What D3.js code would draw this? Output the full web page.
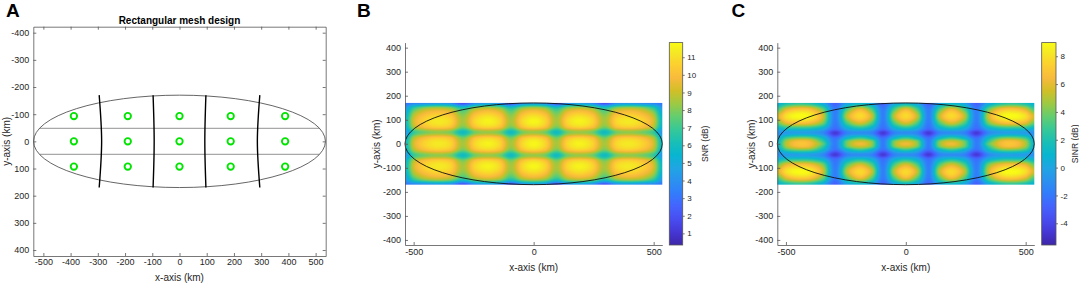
<!DOCTYPE html>
<html>
<head>
<meta charset="utf-8">
<title>Rectangular mesh design, SNR and SINR maps</title>
<script src="https://cdn.jsdelivr.net/npm/d3@7/dist/d3.min.js"></script>
<style>
  body { margin: 0; background: #fff; }
  svg text { font-family: "Liberation Sans", Arial, Helvetica, sans-serif; }
</style>
</head>
<body>
<svg id="chart" width="1079" height="284"></svg>
<script>
// ---- data (km, dB) ----
const meshXTicks = [-500, -400, -300, -200, -100, 0, 100, 200, 300, 400, 500];
const meshYTicks = [-400, -300, -200, -100, 0, 100, 200, 300, 400];
const mapXTicks = [-500, 0, 500];
const mapYTicks = [-400, -300, -200, -100, 0, 100, 200, 300, 400];

// coverage ellipse (semi axes)
const coverageRx = 536;
const coverageRy = 170;

// beam centres of the 5 x 3 mesh
const beamX = [-388, -190, 0, 188, 388];
const beamY = [-93, 0, 93];

// cell borders: x at the top/bottom of the mesh and at y = 0
const borderXEnd = [-295, -97, 97, 295];
const borderXMid = [-286, -93, 93, 286];
const borderY = [-170, 0, 170];
// horizontal strip borders
const stripY = [-48, 48];
const stripX = [-514, 514];

// sample grid for the two maps
const gridX = [-536, -500, -455, -400, -345, -295, -245, -190, -140, -95, -48, 0,
               48, 95, 140, 190, 245, 295, 345, 400, 455, 500, 536];

const snrY = [-170, -150, -125, -95, -70, -48, -24, 0, 24, 48, 70, 95, 125, 150, 170];
const snrGrid = [
  [3.0,3.4,3.6,4.1,3.6,1.6,3.6,4.2,3.6,1.6,3.6,4.2,3.6,1.6,3.6,4.2,3.6,1.6,3.6,4.1,3.6,3.4,3.0],
  [4.2,6.6,8.0,8.5,8.0,6.2,8.0,8.6,8.0,6.2,8.0,8.6,8.0,6.2,8.0,8.6,8.0,6.2,8.0,8.5,8.0,6.6,4.2],
  [5.1,8.4,9.8,10.4,9.9,7.9,9.9,10.6,9.9,7.9,9.9,10.6,9.9,7.9,9.9,10.6,9.9,7.9,9.9,10.4,9.8,8.4,5.1],
  [5.6,9.2,10.7,11.3,10.8,8.5,10.8,11.6,10.8,8.5,10.8,11.7,10.8,8.5,10.8,11.6,10.8,8.5,10.8,11.3,10.7,9.2,5.6],
  [5.2,8.6,10.0,10.6,10.1,7.9,10.1,10.8,10.1,7.9,10.1,10.9,10.1,7.9,10.1,10.8,10.1,7.9,10.1,10.6,10.0,8.6,5.2],
  [4.1,6.8,7.8,8.2,7.8,5.8,7.8,8.3,7.8,5.8,7.8,8.3,7.8,5.8,7.8,8.3,7.8,5.8,7.8,8.2,7.8,6.8,4.1],
  [5.2,8.6,10.0,10.6,10.1,7.9,10.1,10.8,10.1,7.9,10.1,10.9,10.1,7.9,10.1,10.8,10.1,7.9,10.1,10.6,10.0,8.6,5.2],
  [5.6,9.2,10.7,11.3,10.8,8.5,10.8,11.6,10.8,8.5,10.8,11.7,10.8,8.5,10.8,11.6,10.8,8.5,10.8,11.3,10.7,9.2,5.6],
  [5.2,8.6,10.0,10.6,10.1,7.9,10.1,10.8,10.1,7.9,10.1,10.9,10.1,7.9,10.1,10.8,10.1,7.9,10.1,10.6,10.0,8.6,5.2],
  [4.1,6.8,7.8,8.2,7.8,5.8,7.8,8.3,7.8,5.8,7.8,8.3,7.8,5.8,7.8,8.3,7.8,5.8,7.8,8.2,7.8,6.8,4.1],
  [5.2,8.6,10.0,10.6,10.1,7.9,10.1,10.8,10.1,7.9,10.1,10.9,10.1,7.9,10.1,10.8,10.1,7.9,10.1,10.6,10.0,8.6,5.2],
  [5.6,9.2,10.7,11.3,10.8,8.5,10.8,11.6,10.8,8.5,10.8,11.7,10.8,8.5,10.8,11.6,10.8,8.5,10.8,11.3,10.7,9.2,5.6],
  [5.1,8.4,9.8,10.4,9.9,7.9,9.9,10.6,9.9,7.9,9.9,10.6,9.9,7.9,9.9,10.6,9.9,7.9,9.9,10.4,9.8,8.4,5.1],
  [4.2,6.6,8.0,8.5,8.0,6.2,8.0,8.6,8.0,6.2,8.0,8.6,8.0,6.2,8.0,8.6,8.0,6.2,8.0,8.5,8.0,6.6,4.2],
  [3.0,3.4,3.6,4.1,3.6,1.6,3.6,4.2,3.6,1.6,3.6,4.2,3.6,1.6,3.6,4.2,3.6,1.6,3.6,4.1,3.6,3.4,3.0]
];

const sinrY = [-170, -145, -115, -85, -62, -45, -24, -12, 0, 12, 24, 45, 62, 85, 115, 145, 170];
const sinrGrid = [
  [0.5,1.5,2.2,1.8,0.0,-3.0,-0.3,0.6,-0.3,-3.0,-0.3,0.6,-0.3,-3.0,-0.3,0.6,-0.3,-3.0,0.0,1.8,2.2,1.5,0.5],
  [2.8,5.5,6.8,6.5,3.5,-2.0,3.0,6.0,3.0,-2.0,3.0,6.0,3.0,-2.0,3.0,6.0,3.0,-2.0,3.5,6.5,6.8,5.5,2.8],
  [5.5,8.0,9.0,8.6,5.5,-1.8,5.2,7.8,5.2,-1.8,5.2,7.8,5.2,-1.8,5.2,7.8,5.2,-1.8,5.5,8.6,9.0,8.0,5.5],
  [3.5,5.8,6.5,6.2,3.8,-2.0,3.0,5.5,3.0,-2.0,3.0,5.5,3.0,-2.0,3.0,5.5,3.0,-2.0,3.8,6.2,6.5,5.8,3.5],
  [0.5,1.6,1.8,1.7,0.3,-2.6,0.2,1.5,0.2,-2.6,0.2,1.5,0.2,-2.6,0.2,1.5,0.2,-2.6,0.3,1.7,1.8,1.6,0.5],
  [-1.0,-0.5,-0.3,-0.4,-1.3,-4.6,-1.6,-1.2,-1.6,-4.6,-1.6,-1.2,-1.6,-4.6,-1.6,-1.2,-1.6,-4.6,-1.3,-0.4,-0.3,-0.5,-1.0],
  [0.0,2.8,4.0,3.8,1.2,-2.4,1.0,2.8,1.0,-2.4,1.0,2.8,1.0,-2.4,1.0,2.8,1.0,-2.4,1.2,3.8,4.0,2.8,0.0],
  [0.5,4.5,6.3,6.0,2.5,-2.0,3.5,5.3,3.7,-2.0,3.7,5.3,3.7,-2.0,3.7,5.3,3.5,-2.0,2.5,6.0,6.3,4.5,0.5],
  [0.8,5.0,6.8,6.5,3.5,-1.9,4.0,6.3,4.3,-1.9,4.3,6.3,4.3,-1.9,4.3,6.3,4.0,-1.9,3.5,6.5,6.8,5.0,0.8],
  [0.5,4.5,6.3,6.0,2.5,-2.0,3.5,5.3,3.7,-2.0,3.7,5.3,3.7,-2.0,3.7,5.3,3.5,-2.0,2.5,6.0,6.3,4.5,0.5],
  [0.0,2.8,4.0,3.8,1.2,-2.4,1.0,2.8,1.0,-2.4,1.0,2.8,1.0,-2.4,1.0,2.8,1.0,-2.4,1.2,3.8,4.0,2.8,0.0],
  [-1.0,-0.5,-0.3,-0.4,-1.3,-4.6,-1.6,-1.2,-1.6,-4.6,-1.6,-1.2,-1.6,-4.6,-1.6,-1.2,-1.6,-4.6,-1.3,-0.4,-0.3,-0.5,-1.0],
  [0.5,1.6,1.8,1.7,0.3,-2.6,0.2,1.5,0.2,-2.6,0.2,1.5,0.2,-2.6,0.2,1.5,0.2,-2.6,0.3,1.7,1.8,1.6,0.5],
  [3.5,5.8,6.5,6.2,3.8,-2.0,3.0,5.5,3.0,-2.0,3.0,5.5,3.0,-2.0,3.0,5.5,3.0,-2.0,3.8,6.2,6.5,5.8,3.5],
  [5.5,8.0,9.0,8.6,5.5,-1.8,5.2,7.8,5.2,-1.8,5.2,7.8,5.2,-1.8,5.2,7.8,5.2,-1.8,5.5,8.6,9.0,8.0,5.5],
  [2.8,5.5,6.8,6.5,3.5,-2.0,3.0,6.0,3.0,-2.0,3.0,6.0,3.0,-2.0,3.0,6.0,3.0,-2.0,3.5,6.5,6.8,5.5,2.8],
  [0.5,1.5,2.2,1.8,0.0,-3.0,-0.3,0.6,-0.3,-3.0,-0.3,0.6,-0.3,-3.0,-0.3,0.6,-0.3,-3.0,0.0,1.8,2.2,1.5,0.5]
];

const snrDomain = [0.34, 11.83];
const sinrDomain = [-5.56, 8.98];
const snrTicks = [1, 2, 3, 4, 5, 6, 7, 8, 9, 10, 11];
const sinrTicks = [-4, -2, 0, 2, 4, 6, 8];

// parula colormap, sampled at these rows of the 64 entry table
const parulaIdx = [0, 4, 8, 12, 16, 20, 24, 28, 32, 36, 40, 44, 48, 52, 56, 60, 63];
const parulaHex = ["#3e26a8", "#4537d5", "#484df0", "#4563fd", "#327cfc", "#2b91ef",
  "#20a5e3", "#08b5d0", "#19bfb6", "#37c897", "#64cd6f", "#9dc943", "#d1bf27",
  "#f8ba3d", "#fccf30", "#f5e924", "#f9fb15"];

// ---- style ----
const axisColor = "#555";
const textColor = "#262626";

const svg = d3.select("#chart");

function colorScale(domain) {
  const stops = parulaIdx.map(i => domain[0] + (domain[1] - domain[0]) * i / 63);
  return d3.scaleLinear().domain(stops).range(parulaHex).clamp(true);
}

function styleAxis(g, size) {
  g.attr("font-family", null).attr("font-size", null);
  g.select(".domain").attr("stroke", axisColor).attr("stroke-width", 0.8);
  g.selectAll(".tick line").attr("stroke", axisColor).attr("stroke-width", 0.8);
  g.selectAll(".tick text").attr("fill", textColor).style("font-size", size + "px");
}

function panelLetter(x, txt) {
  svg.append("text").attr("x", x).attr("y", 16.5)
    .style("font-size", "19px").style("font-weight", "bold").attr("fill", "#000").text(txt);
}

function axisLabels(y, xlabY, cx, yLabX) {
  const ym = (y.range()[0] + y.range()[1]) / 2;
  svg.append("text").attr("x", cx).attr("y", xlabY)
    .attr("text-anchor", "middle").attr("fill", textColor).style("font-size", "10px")
    .text("x-axis (km)");
  svg.append("text").attr("transform", "translate(" + yLabX + "," + ym + ") rotate(-90)")
    .attr("text-anchor", "middle").attr("fill", textColor).style("font-size", "10px")
    .text("y-axis (km)");
}

// ---------------- Panel A ----------------
(function () {
  const x = d3.scaleLinear().domain([-537, 537]).range([33.3, 325.7]);
  const y = d3.scaleLinear().domain([-422, 422]).range([26.7, 256]);
  const g = svg.append("g");

  g.selectAll(".strip").data(stripY).enter().append("line")
    .attr("x1", x(stripX[0])).attr("x2", x(stripX[1]))
    .attr("y1", d => y(d)).attr("y2", d => y(d))
    .attr("stroke", "#a8a8a8").attr("stroke-width", 1.2);

  g.append("ellipse")
    .attr("cx", x(0)).attr("cy", y(0))
    .attr("rx", x(coverageRx) - x(0)).attr("ry", y(coverageRy) - y(0))
    .attr("fill", "none").attr("stroke", "#555").attr("stroke-width", 0.9);

  const border = d3.line().x(d => x(d[0])).y(d => y(d[1])).curve(d3.curveNatural);
  g.selectAll(".border").data(borderXEnd.map((xe, i) => [
      [xe, borderY[0]], [borderXMid[i], borderY[1]], [xe, borderY[2]]]))
    .enter().append("path")
    .attr("d", border).attr("fill", "none").attr("stroke", "#000").attr("stroke-width", 1.4);

  const beams = [];
  beamY.forEach(by => beamX.forEach(bx => beams.push([bx, by])));
  g.selectAll(".beam").data(beams).enter().append("circle")
    .attr("cx", d => x(d[0])).attr("cy", d => y(d[1])).attr("r", 3.2)
    .attr("fill", "none").attr("stroke", "#00e400").attr("stroke-width", 1.9);

  const fmt = d => String(d);
  const [x0, x1] = x.range(), [y0, y1] = y.range();
  svg.append("g").attr("transform", `translate(0,${y1})`)
    .call(d3.axisBottom(x).tickValues(meshXTicks).tickFormat(fmt).tickSize(-3).tickSizeOuter(0).tickPadding(3))
    .call(g => styleAxis(g, 9));
  svg.append("g").attr("transform", `translate(0,${y0})`)
    .call(d3.axisTop(x).tickValues(meshXTicks).tickFormat("").tickSize(-3).tickSizeOuter(0))
    .call(g => styleAxis(g, 9));
  svg.append("g").attr("transform", `translate(${x0},0)`)
    .call(d3.axisLeft(y).tickValues(meshYTicks).tickFormat(fmt).tickSize(-3).tickSizeOuter(0).tickPadding(4))
    .call(g => styleAxis(g, 9));
  svg.append("g").attr("transform", `translate(${x1},0)`)
    .call(d3.axisRight(y).tickValues(meshYTicks).tickFormat("").tickSize(-3).tickSizeOuter(0))
    .call(g => styleAxis(g, 9));

  svg.append("text").attr("x", (x0 + x1) / 2).attr("y", 23.5)
    .attr("text-anchor", "middle").style("font-size", "10px").style("font-weight", "bold")
    .attr("fill", "#000").text("Rectangular mesh design");

  axisLabels(y, 281, (x0 + x1) / 2, 9.5);
  panelLetter(6, "A");
})();

// ---------------- heat map helper ----------------
function cubic(p0, p1, p2, p3, t) {
  return 0.5 * (2 * p1 + (-p0 + p2) * t + (2 * p0 - 5 * p1 + 4 * p2 - p3) * t * t +
    (-p0 + 3 * p1 - 3 * p2 + p3) * t * t * t);
}

function sample(grid, fx, fy) {
  const nx = grid[0].length, ny = grid.length;
  const ix = Math.min(Math.floor(fx), nx - 2), iy = Math.min(Math.floor(fy), ny - 2);
  const tx = fx - ix, ty = fy - iy;
  const cx = k => Math.max(0, Math.min(nx - 1, k));
  const cy = k => Math.max(0, Math.min(ny - 1, k));
  const rows = [-1, 0, 1, 2].map(d => {
    const r = grid[cy(iy + d)];
    return cubic(r[cx(ix - 1)], r[cx(ix)], r[cx(ix + 1)], r[cx(ix + 2)], tx);
  });
  return cubic(rows[0], rows[1], rows[2], rows[3], ty);
}

function heatMap(g, ys, grid, x, y, color) {
  const left = x(gridX[0]), right = x(gridX[gridX.length - 1]);
  const top = Math.min(y(ys[0]), y(ys[ys.length - 1]));
  const bottom = Math.max(y(ys[0]), y(ys[ys.length - 1]));
  const W = Math.round(right - left), H = Math.round(bottom - top);
  const canvas = document.createElement("canvas");
  canvas.width = W; canvas.height = H;
  const ctx = canvas.getContext("2d");
  const img = ctx.createImageData(W, H);
  const fx = d3.scaleLinear().domain(gridX).range(d3.range(gridX.length)).clamp(true);
  const fy = d3.scaleLinear().domain(ys).range(d3.range(ys.length)).clamp(true);
  for (let j = 0; j < H; j++) {
    const ky = y.invert(top + (j + 0.5) * (bottom - top) / H);
    for (let i = 0; i < W; i++) {
      const kx = x.invert(left + (i + 0.5) * (right - left) / W);
      const c = d3.rgb(color(sample(grid, fx(kx), fy(ky))));
      const p = 4 * (j * W + i);
      img.data[p] = c.r; img.data[p + 1] = c.g; img.data[p + 2] = c.b; img.data[p + 3] = 255;
    }
  }
  ctx.putImageData(img, 0, 0);
  g.append("image").attr("x", left).attr("y", top)
    .attr("width", right - left).attr("height", bottom - top)
    .attr("preserveAspectRatio", "none").attr("href", canvas.toDataURL());
}

function colorBar(id, x0, x1, y, domain, ticks, label, labelX) {
  const grad = svg.append("defs").append("linearGradient").attr("id", id)
    .attr("x1", 0).attr("y1", 1).attr("x2", 0).attr("y2", 0);
  grad.selectAll("stop").data(parulaIdx).enter().append("stop")
    .attr("offset", d => d / 63).attr("stop-color", (d, i) => parulaHex[i]);
  const s = d3.scaleLinear().domain(domain).range([y.range()[0], y.range()[1]]);
  svg.append("rect").attr("x", x0).attr("y", s(domain[1]))
    .attr("width", x1 - x0).attr("height", s(domain[0]) - s(domain[1]))
    .attr("fill", `url(#${id})`).attr("stroke", axisColor).attr("stroke-width", 0.8);
  svg.append("g").attr("transform", `translate(${x1},0)`)
    .call(d3.axisRight(s).tickValues(ticks).tickFormat(d => String(d)).tickSize(2).tickSizeOuter(0).tickPadding(2.5))
    .call(g => { styleAxis(g, 8); g.select(".domain").remove(); });
  svg.append("text").attr("transform", `translate(${labelX},${(s.range()[0] + s.range()[1]) / 2}) rotate(-90)`)
    .attr("text-anchor", "middle").attr("fill", textColor).style("font-size", "8.5px").text(label);
}

function mapPanel(opts) {
  const x = d3.scaleLinear().domain([-536, 536]).range(opts.xr);
  const y = d3.scaleLinear().domain([-421, 421]).range([245, 42.6]);
  const g = svg.append("g");
  heatMap(g, opts.ys, opts.grid, x, y, colorScale(opts.domain));
  g.append("ellipse")
    .attr("cx", x(0)).attr("cy", y(0))
    .attr("rx", x(coverageRx) - x(0)).attr("ry", y(0) - y(coverageRy))
    .attr("fill", "none").attr("stroke", "#111").attr("stroke-width", 0.9);

  const fmt = d => String(d);
  svg.append("g").attr("transform", `translate(0,${y.range()[0]})`)
    .call(d3.axisBottom(x).tickValues(mapXTicks).tickFormat(fmt).tickSize(-3).tickSizeOuter(0).tickPadding(4))
    .call(g => styleAxis(g, 9));
  svg.append("g").attr("transform", `translate(${opts.xr[0]},0)`)
    .call(d3.axisLeft(y).tickValues(mapYTicks).tickFormat(fmt).tickSize(-3).tickSizeOuter(0).tickPadding(4))
    .call(g => styleAxis(g, 9));

  axisLabels(y, 270.5, x(0), opts.yLabX);
  colorBar(opts.id, opts.cb[0], opts.cb[1], y, opts.domain, opts.ticks, opts.label, opts.labelX);
  panelLetter(opts.letterX, opts.letter);
}

// ---------------- Panel B ----------------
mapPanel({ xr: [405, 662.3], ys: snrY, grid: snrGrid, domain: snrDomain, ticks: snrTicks,
  cb: [669.3, 682.7], id: "cbB", label: "SNR (dB)", labelX: 708, yLabX: 380,
  letter: "B", letterX: 357 });

// ---------------- Panel C ----------------
mapPanel({ xr: [777.3, 1034.3], ys: sinrY, grid: sinrGrid, domain: sinrDomain, ticks: sinrTicks,
  cb: [1041.7, 1056], id: "cbC", label: "SINR (dB)", labelX: 1078, yLabX: 755,
  letter: "C", letterX: 731.5 });
</script>
</body>
</html>
